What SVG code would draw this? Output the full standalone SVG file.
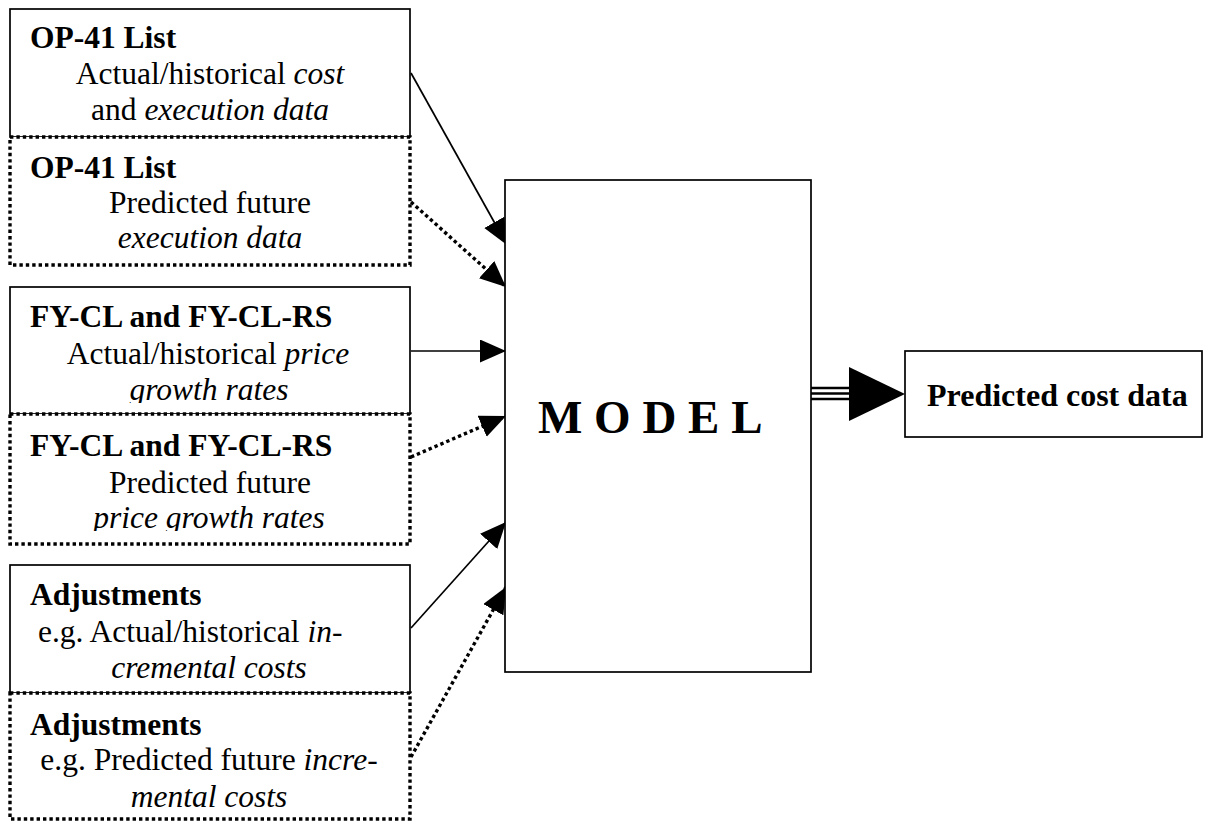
<svg xmlns="http://www.w3.org/2000/svg" width="1206" height="823" viewBox="0 0 1206 823">
<style>
text{font-family:"Liberation Serif","Times New Roman",serif;font-size:31.5px;fill:#000}
.t{font-weight:bold}
.c{text-anchor:middle}
.i{font-style:italic}
.solid{fill:#fff;stroke:#000;stroke-width:1.7}
.dot{fill:#fff;stroke:#000;stroke-width:3.4;stroke-dasharray:3.4 3}
.ln{fill:none;stroke:#000;stroke-width:1.7}
.dl{fill:none;stroke:#000;stroke-width:3.4;stroke-dasharray:3.4 3}
</style>
<defs>
<marker id="ah" markerUnits="userSpaceOnUse" markerWidth="28" markerHeight="24" refX="26" refY="11.5" orient="auto">
<path d="M0,0 L26,11.5 L0,23 z" fill="#000" stroke="none"/>
</marker>
<clipPath id="c3"><rect x="0" y="280" width="420" height="123"/></clipPath>
<clipPath id="c4"><rect x="0" y="410" width="420" height="121"/></clipPath>
</defs>
<g id="op41-actual">
<rect class="solid" x="10" y="9" width="400" height="128"/>
<text class="t" x="30" y="48">OP-41 List</text>
<text class="c" x="210" y="84">Actual/historical <tspan class="i">cost</tspan></text>
<text class="c" x="210" y="120">and <tspan class="i">execution data</tspan></text>
</g>
<g id="op41-predicted">
<rect class="dot" x="10" y="137" width="400" height="128"/>
<text class="t" x="30" y="178">OP-41 List</text>
<text class="c" x="210" y="213">Predicted future</text>
<text class="c i" x="210" y="248">execution data</text>
</g>
<g id="fycl-actual">
<rect class="solid" x="10" y="287" width="400" height="127"/>
<g clip-path="url(#c3)">
<text class="t" x="30" y="327">FY-CL and FY-CL-RS</text>
<text class="c" x="208" y="364">Actual/historical <tspan class="i">price</tspan></text>
<text class="c i" x="209" y="400">growth rates</text>
</g>
</g>
<g id="fycl-predicted">
<rect class="dot" x="10" y="414" width="400" height="130"/>
<g clip-path="url(#c4)">
<text class="t" x="30" y="456">FY-CL and FY-CL-RS</text>
<text class="c" x="210" y="493">Predicted future</text>
<text class="c i" x="209" y="528">price growth rates</text>
</g>
</g>
<g id="adj-actual">
<rect class="solid" x="10" y="565" width="400" height="128"/>
<text class="t" x="30" y="605">Adjustments</text>
<text x="38" y="642">e.g. Actual/historical <tspan class="i">in-</tspan></text>
<text class="c i" x="209" y="678">cremental costs</text>
</g>
<g id="adj-predicted">
<rect class="dot" x="10" y="693" width="400" height="126"/>
<text class="t" x="30" y="735">Adjustments</text>
<text class="c" x="209" y="770">e.g. Predicted future <tspan class="i">incre-</tspan></text>
<text class="c i" x="209" y="807">mental costs</text>
</g>
<g id="connectors">
<line class="ln" x1="411" y1="73" x2="507" y2="245" marker-end="url(#ah)"/>
<line class="dl" x1="411" y1="202" x2="506" y2="287" marker-end="url(#ah)"/>
<line class="ln" x1="411" y1="351" x2="506" y2="351" marker-end="url(#ah)"/>
<line class="dl" x1="411" y1="457" x2="506" y2="416" marker-end="url(#ah)"/>
<line class="ln" x1="411" y1="628" x2="506" y2="522" marker-end="url(#ah)"/>
<line class="dl" x1="411" y1="757" x2="506" y2="587" marker-end="url(#ah)"/>
<g id="output-arrow">
<line x1="811" y1="388" x2="851" y2="388" stroke="#000" stroke-width="2.4"/>
<line x1="811" y1="393.5" x2="851" y2="393.5" stroke="#000" stroke-width="2.4"/>
<line x1="811" y1="399" x2="851" y2="399" stroke="#000" stroke-width="2.4"/>
<path d="M849,367 L905,394 L849,421 z" fill="#000"/>
</g>
</g>
<g id="model">
<rect class="solid" x="505" y="180" width="306" height="492"/>
<text class="t" x="538" y="433" style="font-size:47px">M O D E L</text>
</g>
<g id="predicted-cost">
<rect class="solid" x="905" y="351" width="297" height="86"/>
<text class="t" x="927" y="406" style="font-size:32px">Predicted cost data</text>
</g>
</svg>
